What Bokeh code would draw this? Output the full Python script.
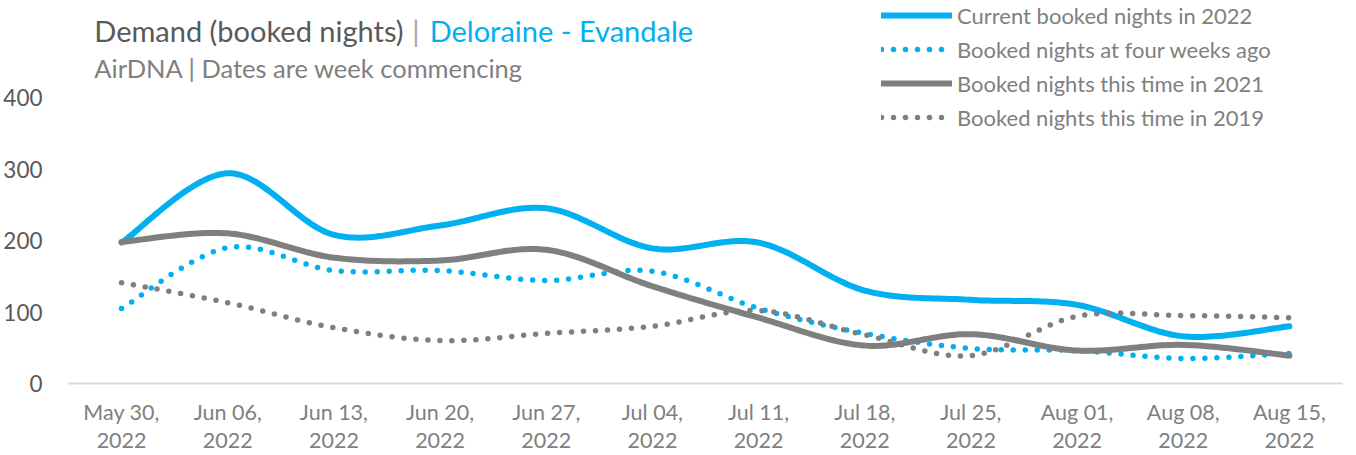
import numpy as np
from bokeh.plotting import figure
from bokeh.models import Label, Legend, LegendItem, FixedTicker, Range1d
from bokeh.embed import file_html
from bokeh.resources import INLINE

weeks = ["May 30,\n2022", "Jun 06,\n2022", "Jun 13,\n2022", "Jun 20,\n2022",
         "Jun 27,\n2022", "Jul 04,\n2022", "Jul 11,\n2022", "Jul 18,\n2022",
         "Jul 25,\n2022", "Aug 01,\n2022", "Aug 08,\n2022", "Aug 15,\n2022"]
current_2022 = [197, 294, 208, 221, 245, 189, 197, 130, 117, 110, 66, 80]
four_weeks_ago = [105, 190, 158, 158, 144, 157, 105, 70, 49, 46, 35, 42]
this_time_2021 = [198, 210, 176, 172, 187, 136, 92, 53, 69, 46, 54, 39]
this_time_2019 = [141, 113, 78, 60, 70, 80, 102, 68, 39, 94, 95, 92]
y_ticks = [0, 100, 200, 300, 400]
series_names = ["Current booked nights in 2022", "Booked nights at four weeks ago",
                "Booked nights this time in 2021", "Booked nights this time in 2019"]

BLUE = "#00B0F0"
GREY = "#7F7F7F"
FONT = "Lato"

# frame spans page y 0..383; value 400 sits at y=97 -> top of range
Y_TOP = 400 * 383 / 286.0


def smooth(vals, n=30):
    """Excel-like smoothed line: Catmull-Rom cubic Bezier through the data points."""
    y = np.asarray(vals, dtype=float)
    x = np.arange(len(y), dtype=float)
    P = np.column_stack([x, y])
    Pp = np.vstack([P[0], P, P[-1]])
    t = np.linspace(0, 1, n, endpoint=False)[:, None]
    pts = []
    for i in range(len(y) - 1):
        p0, p1, p2, p3 = Pp[i], Pp[i + 1], Pp[i + 2], Pp[i + 3]
        c1 = p1 + (p2 - p0) / 6.0
        c2 = p2 - (p3 - p1) / 6.0
        b = ((1 - t) ** 3) * p1 + 3 * ((1 - t) ** 2) * t * c1 + 3 * (1 - t) * t ** 2 * c2 + t ** 3 * p2
        pts.append(b)
    pts.append(P[-1][None, :])
    pts = np.vstack(pts)
    return pts[:, 0], pts[:, 1]


p = figure(width=1348, height=455, output_backend="svg", toolbar_location=None,
           x_range=Range1d(-0.5, len(weeks) - 0.5), y_range=Range1d(0, Y_TOP),
           min_border_left=58, min_border_right=6, min_border_top=0, min_border_bottom=72)
p.outline_line_color = None
p.background_fill_color = "white"
p.border_fill_color = "white"
p.xgrid.visible = False
p.ygrid.visible = False

# axes
p.xaxis.ticker = FixedTicker(ticks=list(range(len(weeks))))
p.xaxis.major_label_overrides = {i: w for i, w in enumerate(weeks)}
p.xaxis.axis_line_color = "#D9D9D9"
p.xaxis.axis_line_width = 2
p.xaxis.major_tick_line_color = None
p.xaxis.minor_tick_line_color = None
p.xaxis.major_label_text_font = FONT
p.xaxis.major_label_text_font_size = "21.5px"
p.xaxis.major_label_text_color = "#808080"
p.xaxis.major_label_text_line_height = 1.094
p.xaxis.major_label_standoff = 9

p.yaxis.ticker = FixedTicker(ticks=y_ticks)
p.yaxis.axis_line_color = None
p.yaxis.major_tick_line_color = None
p.yaxis.minor_tick_line_color = None
p.yaxis.major_label_text_font = FONT
p.yaxis.major_label_text_font_size = "22.5px"
p.yaxis.major_label_text_color = "#595959"
p.yaxis.major_label_standoff = 20

# series
xs, ys = smooth(current_2022)
r1 = p.line(xs, ys, line_color=BLUE, line_width=6, line_cap="round", line_join="round")
xs, ys = smooth(four_weeks_ago)
r2 = p.line(xs, ys, line_color=BLUE, line_width=5.5, line_cap="round", line_dash="0 12")
xs, ys = smooth(this_time_2021)
r3 = p.line(xs, ys, line_color=GREY, line_width=6, line_cap="round", line_join="round")
xs, ys = smooth(this_time_2019)
r4 = p.line(xs, ys, line_color=GREY, line_width=5.5, line_cap="round", line_dash="0 12")

legend = Legend(items=[LegendItem(label=n, renderers=[r]) for n, r in
                       zip(series_names, [r1, r2, r3, r4])],
                location=(813, 249), orientation="vertical",
                border_line_color=None, background_fill_alpha=0,
                padding=0, margin=0, glyph_width=71, glyph_height=34,
                label_height=34, spacing=0, label_standoff=5,
                label_text_font=FONT, label_text_font_size="22px",
                label_text_color="#808080")
p.add_layout(legend)

# titles (positioned in value space of the frame, above the 400 level)
px_per_x = 107.0
def xpos(page_x):
    return -0.5 + (page_x - 66) / px_per_x
def ypos(page_y):
    return (383 - page_y) * 400 / 286.0

TITLE_Y = ypos(30)
SUB_Y = ypos(67)
p.add_layout(Label(x=xpos(92), y=TITLE_Y, text="Demand (booked nights)", text_font=FONT,
                   text_font_size="29px", text_color="#595959", text_baseline="alphabetic"))
p.add_layout(Label(x=xpos(416), y=TITLE_Y, text="|", text_font=FONT, text_align="center",
                   text_font_size="29px", text_color="#A6A6A6", text_baseline="alphabetic"))
p.add_layout(Label(x=xpos(430), y=TITLE_Y, text="Deloraine - Evandale", text_font=FONT,
                   text_font_size="29px", text_color=BLUE, text_baseline="alphabetic"))
p.add_layout(Label(x=xpos(92), y=SUB_Y, text="AirDNA | Dates are week commencing",
                   text_font=FONT, text_font_size="25.5px", text_color="#7F7F7F",
                   text_baseline="alphabetic"))

open("out.html", "w").write(file_html(p, INLINE))
